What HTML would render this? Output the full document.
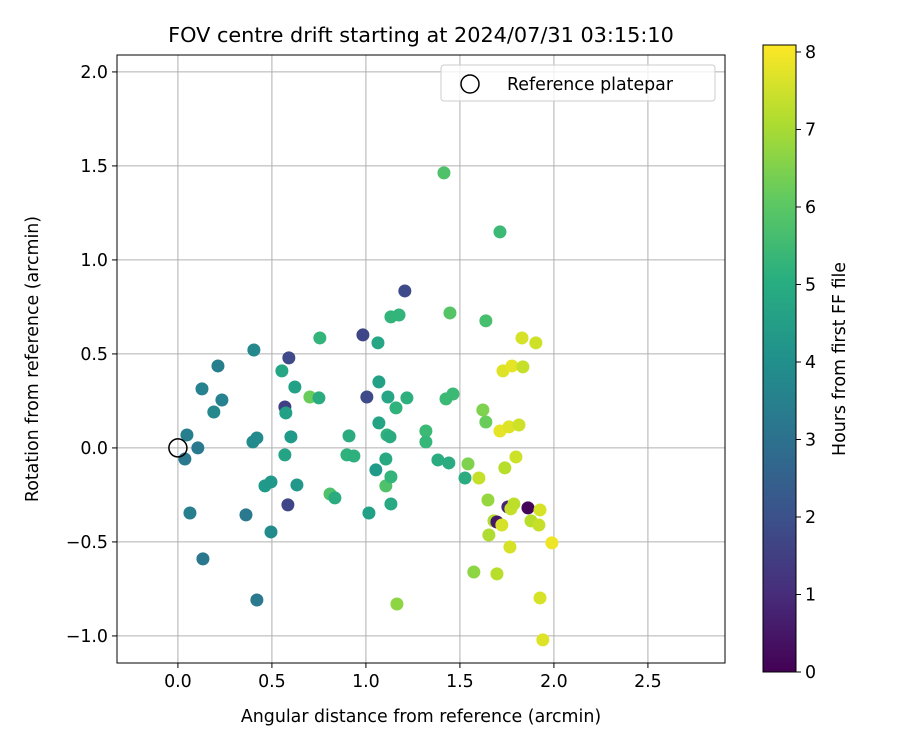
<!DOCTYPE html>
<html><head><meta charset="utf-8"><style>
body{margin:0;background:#fff;}
svg{font-family:"DejaVu Sans","Liberation Sans",sans-serif;}
</style></head><body>
<svg id="chart" width="900" height="750" viewBox="0 0 900 750" xmlns="http://www.w3.org/2000/svg">
<defs>
<linearGradient id="vir" x1="0" y1="1" x2="0" y2="0">
<stop offset="0" stop-color="#440154"/><stop offset="0.125" stop-color="#472d7b"/><stop offset="0.25" stop-color="#3b528b"/><stop offset="0.375" stop-color="#2c728e"/><stop offset="0.5" stop-color="#21918c"/><stop offset="0.625" stop-color="#28ae80"/><stop offset="0.75" stop-color="#5ec962"/><stop offset="0.875" stop-color="#addc30"/><stop offset="1" stop-color="#fde725"/>
</linearGradient>
<clipPath id="pc"><rect x="117" y="55" width="608" height="608"/></clipPath>
</defs>
<g id="grid"></g>
<g id="points" clip-path="url(#pc)"></g>
<rect x="117" y="55" width="608" height="608" fill="none" stroke="#000" stroke-width="1"/>
<g id="ticks"></g>
<text x="421" y="42" font-size="20.8" text-anchor="middle">FOV centre drift starting at 2024/07/31 03:15:10</text>
<text x="421" y="722" font-size="17.4" text-anchor="middle">Angular distance from reference (arcmin)</text>
<text transform="translate(38,359) rotate(-90)" font-size="17.4" text-anchor="middle">Rotation from reference (arcmin)</text>
<g>
<rect x="441" y="65" width="274" height="36" rx="3" fill="#fff" fill-opacity="0.8" stroke="#ccc"/>
<circle cx="470" cy="84" r="9" fill="none" stroke="#000" stroke-width="1.5"/>
<text x="507" y="90" font-size="17.4">Reference platepar</text>
</g>
<g>
<rect x="763" y="45" width="33" height="627" fill="url(#vir)" stroke="#000" stroke-width="1"/>
<g id="cbticks"></g>
<text transform="translate(845,359) rotate(-90)" font-size="17.4" text-anchor="middle">Hours from first FF file</text>
</g>
</svg>
<script>
const xs=[0.048,0.037,0.064,0.106,0.133,0.128,0.191,0.213,0.234,0.404,0.399,0.420,0.362,0.420,0.463,0.495,0.495,0.553,0.590,0.569,0.574,0.569,0.601,0.622,0.585,0.633,0.702,0.75,0.755,0.809,0.835,0.899,0.910,0.936,0.984,1.005,1.016,1.053,1.064,1.069,1.069,1.106,1.106,1.117,1.112,1.128,1.133,1.133,1.133,1.176,1.160,1.207,1.218,1.165,1.319,1.319,1.383,1.415,1.426,1.441,1.447,1.463,1.527,1.543,1.574,1.601,1.622,1.638,1.638,1.649,1.654,1.681,1.697,1.713,1.697,1.723,1.713,1.729,1.739,1.755,1.761,1.766,1.771,1.777,1.787,1.798,1.814,1.830,1.835,1.862,1.878,1.904,1.926,1.926,1.920,1.941,1.989];
const ys=[0.069,-0.059,-0.346,0,-0.590,0.314,0.191,0.436,0.255,0.521,0.032,0.053,-0.356,-0.809,-0.202,-0.181,-0.447,0.410,0.479,0.218,0.186,-0.037,0.059,0.324,-0.303,-0.197,0.271,0.266,0.585,-0.245,-0.266,-0.037,0.064,-0.043,0.601,0.271,-0.346,-0.117,0.559,0.351,0.133,-0.059,-0.202,0.271,0.069,0.059,-0.154,-0.298,0.697,0.707,0.213,0.835,0.266,-0.830,0.090,0.032,-0.064,1.463,0.261,-0.080,0.718,0.287,-0.160,-0.085,-0.660,-0.160,0.202,0.138,0.676,-0.277,-0.463,-0.388,-0.670,1.149,-0.394,-0.410,0.090,0.410,-0.106,-0.314,0.112,-0.527,-0.324,0.436,-0.298,-0.048,0.122,0.585,0.431,-0.319,-0.388,0.559,-0.798,-0.330,-0.410,-1.021,-0.505];
const hours=[3.5,3.3,3.5,3.3,3.2,3.6,3.8,3.5,3.6,3.8,3.9,3.9,3.3,3.3,4.4,4.3,3.9,4.8,1.8,1.5,4.6,4.7,4.4,4.6,1.7,4.3,6.2,5.0,5.3,5.8,5.0,5.2,5.0,5.1,1.7,1.8,4.6,4.4,4.8,4.6,4.7,4.9,5.8,4.8,5.2,5.0,5.3,4.9,5.3,5.3,5.2,1.8,5.1,6.7,5.5,5.4,5.0,5.8,5.5,5.0,5.9,5.5,5.0,6.5,6.7,7.4,6.5,6.2,5.7,6.8,7.1,7.1,7.2,5.5,0.5,7.6,7.8,7.7,7.2,0.8,7.7,7.6,7.4,7.8,7.3,7.5,7.5,7.6,7.4,0.1,7.2,7.5,7.6,7.6,7.4,7.7,7.9];
const xTicks=[0.0,0.5,1.0,1.5,2.0,2.5];
const yTicks=[-1.0,-0.5,0.0,0.5,1.0,1.5,2.0];
const cTicks=[0,1,2,3,4,5,6,7,8];
const X0=117,X1=725,Y0=55,Y1=663,xmin=-0.324,xmax=2.910,ymin=-1.144,ymax=2.090,cmax=8.09;
const sx=v=>X0+(v-xmin)/(xmax-xmin)*(X1-X0);
const sy=v=>Y1-(v-ymin)/(ymax-ymin)*(Y1-Y0);
const sc=v=>672-v/cmax*627;
const vir=[[68,1,84],[72,40,120],[62,74,137],[49,104,142],[38,130,142],[31,158,137],[53,183,121],[110,206,88],[181,222,43],[253,231,37]];
function col(h){let t=Math.max(0,Math.min(1,h/cmax))*(vir.length-1);let i=Math.min(Math.floor(t),vir.length-2),f=t-i;const c=vir[i].map((a,k)=>Math.round(a+(vir[i+1][k]-a)*f));return `rgb(${c})`;}
const NS='http://www.w3.org/2000/svg';
function mk(tag,attrs,parent,txt){const e=document.createElementNS(NS,tag);for(const k in attrs)e.setAttribute(k,attrs[k]);if(txt!==undefined)e.textContent=txt;parent.appendChild(e);return e;}
const grid=document.getElementById('grid'),ticks=document.getElementById('ticks'),pts=document.getElementById('points'),cb=document.getElementById('cbticks');
xTicks.forEach(v=>{const x=sx(v);
 const g=mk('line',{x1:x,x2:x,y1:Y0,y2:Y1,stroke:'#b0b0b0','stroke-width':1},grid);
 
 
 mk('line',{x1:x,x2:x,y1:Y1,y2:Y1+5,stroke:'#000'},ticks);
 const t=mk('text',{x:x,y:Y1+24,'font-size':17.4,'text-anchor':'middle'},ticks,v.toFixed(1));
 
 });
yTicks.forEach(v=>{const y=sy(v);
 const g=mk('line',{x1:X0,x2:X1,y1:y,y2:y,stroke:'#b0b0b0','stroke-width':1},grid);
 
 
 mk('line',{x1:X0-5,x2:X0,y1:y,y2:y,stroke:'#000'},ticks);
 const t=mk('text',{x:X0-9,y:y+6,'font-size':17.4,'text-anchor':'end'},ticks,v.toFixed(1).replace('-','−'));
 
 });
xs.forEach((v,i)=>{const c=mk('circle',{cx:sx(v),cy:sy(ys[i]),r:6.5,fill:col(hours[i])},pts);
 
 });
const ref=mk('circle',{cx:sx(0),cy:sy(0),r:9,fill:'none',stroke:'#000','stroke-width':1.5},pts);


cTicks.forEach(v=>{const y=sc(v);
 mk('line',{x1:796,x2:801,y1:y,y2:y,stroke:'#000'},cb);
 const t=mk('text',{x:805,y:y+6,'font-size':17.4},cb,String(v));
 
 });
</script>
</body></html>
